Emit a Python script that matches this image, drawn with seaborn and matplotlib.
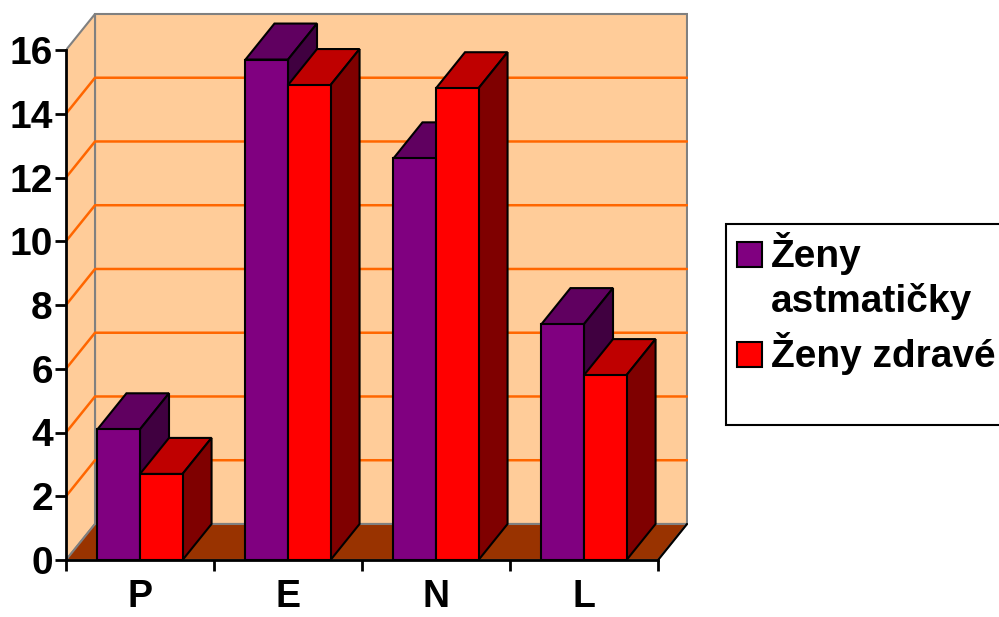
import matplotlib.pyplot as plt
import matplotlib.patches as mpatches
import pandas as pd
import seaborn as sns

# hodnoty
categories = ["P", "E", "N", "L"]
groups = ["Ženy astmatičky", "Ženy zdravé"]
astmaticky = [4.1, 15.7, 12.6, 7.4]
zdrave = [2.7, 14.9, 14.8, 5.8]
y_ticks = [0, 2, 4, 6, 8, 10, 12, 14, 16]
legend_labels = ["Ženy\nastmatičky", "Ženy zdravé"]

front_col = {groups[0]: "#800080", groups[1]: "#ff0000"}
top_col = {groups[0]: "#600060", groups[1]: "#bf0000"}
side_col = {groups[0]: "#400040", groups[1]: "#7f0000"}

df = pd.DataFrame({
    "kategorie": categories * 2,
    "skupina": [groups[0]] * len(categories) + [groups[1]] * len(categories),
    "hodnota": astmaticky + zdrave,
})

sns.set_style("white")
plt.rcParams["font.family"] = ["Liberation Sans", "DejaVu Sans"]
plt.rcParams["font.weight"] = "bold"

W, H = 999, 617
fig = plt.figure(figsize=(W / 100, H / 100), dpi=100)
ax = fig.add_axes([66 / W, (H - 560) / H, 621.6 / W, 548.25 / H])
ax.patch.set_visible(False)

# hloubka 3D efektu v datových jednotkách
DX, DY = 0.196, 1.13
x0, x1 = -0.5, len(categories) - 0.5
ymax = y_ticks[-1]

sns.barplot(data=df, x="kategorie", y="hodnota", hue="skupina",
            palette=front_col, saturation=1, width=0.575, gap=0,
            errorbar=None, edgecolor="black", linewidth=1.5,
            legend=False, zorder=3, ax=ax)

# zadní stěna, boční stěna, podlaha
wall = "#ffcc99"
ax.add_patch(mpatches.Polygon([(x0 + DX, DY), (x1 + DX, DY), (x1 + DX, ymax + DY), (x0 + DX, ymax + DY)],
                              closed=True, fc=wall, ec="#808080", lw=1.5, zorder=0.5))
ax.add_patch(mpatches.Polygon([(x0, 0), (x0 + DX, DY), (x0 + DX, ymax + DY), (x0, ymax)],
                              closed=True, fc=wall, ec="#808080", lw=1.5, zorder=0.6))
ax.add_patch(mpatches.Polygon([(x0, 0), (x1, 0), (x1 + DX, DY), (x0 + DX, DY)],
                              closed=True, fc="#993300", ec="#808080", lw=1.5, zorder=0.7))
ax.plot([x1, x1 + DX], [0, DY], color="black", lw=1.5, zorder=0.8)

for v in y_ticks[1:-1]:
    ax.plot([x0, x0 + DX, x1 + DX], [v, v + DY, v + DY], color="#ff6600", lw=1.8, zorder=0.65)

# horní a boční stěny sloupců
bars = []
for grp, cont in zip(groups, ax.containers):
    for p in cont.patches:
        bars.append((p.get_x(), p.get_width(), p.get_height(), grp))
bars.sort(key=lambda b: b[0])
for i, (x, w, h, grp) in enumerate(bars):
    z = 2 + i * 0.01
    ax.add_patch(mpatches.Polygon([(x, h), (x + w, h), (x + w + DX, h + DY), (x + DX, h + DY)],
                                  closed=True, fc=top_col[grp], ec="black", lw=1.5, zorder=z))
    ax.add_patch(mpatches.Polygon([(x + w, 0), (x + w + DX, DY), (x + w + DX, h + DY), (x + w, h)],
                                  closed=True, fc=side_col[grp], ec="black", lw=1.5, zorder=z))

ax.set_xlim(x0, x1 + 0.2)
ax.set_ylim(0, 17.2)
ax.set_xlabel("")
ax.set_ylabel("")

sns.despine(ax=ax, top=True, right=True)
ax.spines["left"].set_bounds(0, ymax)
ax.spines["bottom"].set_bounds(x0, x1)
for s in ("left", "bottom"):
    ax.spines[s].set_linewidth(2)
    ax.spines[s].set_color("black")
    ax.spines[s].set_zorder(4)

ax.set_yticks(y_ticks)
ax.set_yticklabels([str(t) for t in y_ticks])
ax.set_xticks(range(len(categories)))
ax.set_xticklabels(categories)
ax.set_xticks([x0 + k for k in range(len(categories) + 1)], minor=True)
ax.tick_params(axis="y", left=True, length=8, width=2, pad=1.5, labelsize=28, colors="black")
ax.tick_params(axis="x", which="major", bottom=True, length=0, pad=14, labelsize=27, colors="black")
ax.tick_params(axis="x", which="minor", bottom=True, length=8, width=2, color="black")

# legenda
fig.add_artist(mpatches.Rectangle((726 / W, 1 - 425 / H), (1010 - 726) / W, (425 - 224) / H,
                                  transform=fig.transFigure, fc="white", ec="black", lw=1.5))
baseline = 267
for grp, lab in zip(groups, legend_labels):
    fig.add_artist(mpatches.Rectangle((737 / W, 1 - baseline / H), 25 / W, 25 / H,
                                      transform=fig.transFigure, fc=front_col[grp], ec="black", lw=1.5))
    for line in lab.split("\n"):
        fig.text(771 / W, 1 - baseline / H, line, fontsize=28, fontweight="bold",
                 va="baseline", ha="left", color="black")
        baseline += 45
    baseline += 10

fig.savefig("out.png", dpi=100)
